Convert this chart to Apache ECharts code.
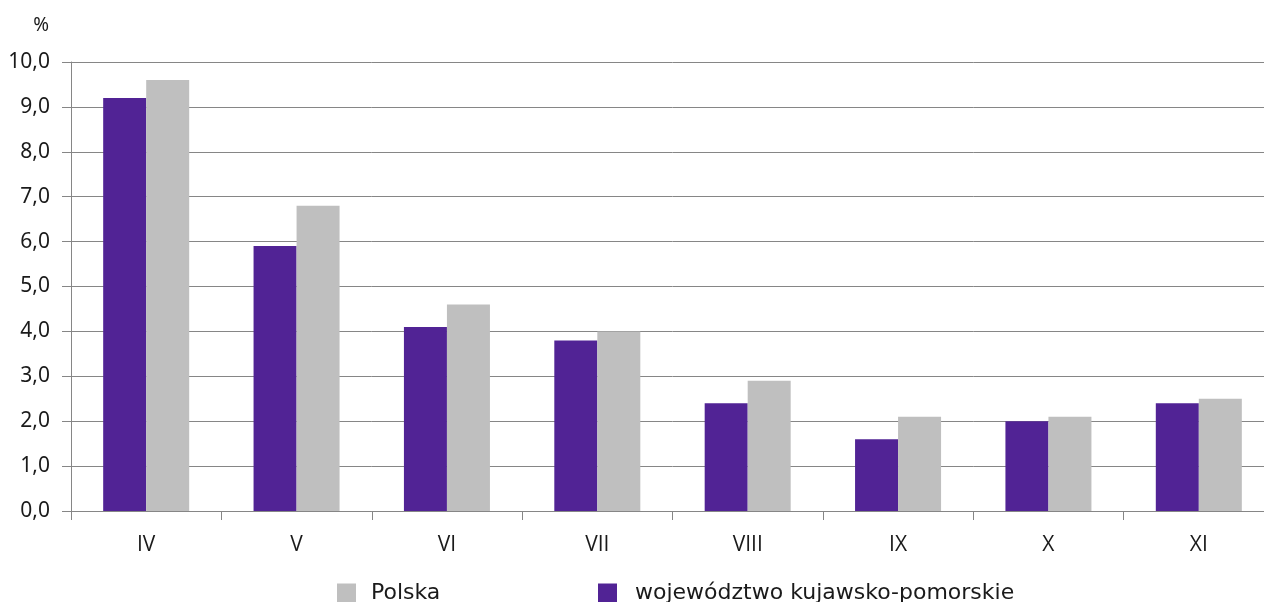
<!DOCTYPE html>
<html><head><meta charset="utf-8">
<script src="https://cdn.jsdelivr.net/npm/echarts@6/dist/echarts.min.js"></script>
<style>html,body{margin:0;padding:0;background:#fff;overflow:hidden}#c{width:1274px;height:602px}</style>
</head><body><div id="c"></div>
<script>
const categories = ['IV','V','VI','VII','VIII','IX','X','XI'];
const kujawsko = [9.2, 5.9, 4.1, 3.8, 2.4, 1.6, 2.0, 2.4];
const polska = [9.6, 6.8, 4.6, 4.0, 2.9, 2.1, 2.1, 2.5];
const seriesNames = ['województwo kujawsko-pomorskie', 'Polska'];
const unitLabel = '%';
const yTicks = {min: 0, max: 10, interval: 1};

const font = 'Noto Sans';
const xFont = 'Open Sans';
const legendFont = 'DejaVu Sans';
const chart = echarts.init(document.getElementById('c'));
function legendCfg(name, left, padLeft) {
  return {
    data: [name], left: left, top: 577, itemWidth: 19, itemHeight: 19, icon: 'rect',
    textStyle: {fontSize: 22, color: '#1a1a1a', fontFamily: legendFont, padding: [0,0,0,padLeft]}
  };
}
chart.setOption({
  animation: false,
  textStyle: {fontFamily: font},
  grid: {left: 71, right: 0, top: 62, bottom: 91, containLabel: false},
  legend: [
    legendCfg(seriesNames[1], 332, 10),
    legendCfg(seriesNames[0], 593, 13)
  ],
  graphic: [{
    type: 'text', right: 1274 - 49, top: 16,
    style: {text: unitLabel, fontSize: 19, fill: '#1a1a1a', fontFamily: font}
  }],
  xAxis: {
    type: 'category', data: categories,
    axisLine: {lineStyle: {color: '#868686', width: 1}},
    axisTick: {show: true, length: 9, lineStyle: {color: '#868686'}},
    axisLabel: {fontSize: 21, color: '#1a1a1a', margin: 24, fontFamily: xFont}
  },
  yAxis: {
    type: 'value', min: yTicks.min, max: yTicks.max, interval: yTicks.interval,
    axisLine: {show: true, lineStyle: {color: '#868686'}},
    axisTick: {show: true, length: 9, lineStyle: {color: '#868686'}},
    splitLine: {lineStyle: {color: '#868686', width: 1}},
    axisLabel: {fontSize: 21, color: '#1a1a1a', margin: 21, fontFamily: font,
      formatter: v => v.toFixed(1).replace('.', ',')}
  },
  series: [
    {name: seriesNames[0], type: 'bar', data: kujawsko, barGap: '0%', barCategoryGap: '42.8%',
     itemStyle: {color: '#512395'}},
    {name: seriesNames[1], type: 'bar', data: polska, barGap: '0%', barCategoryGap: '42.8%',
     itemStyle: {color: '#bfbfbf'}}
  ]
});
</script></body></html>
